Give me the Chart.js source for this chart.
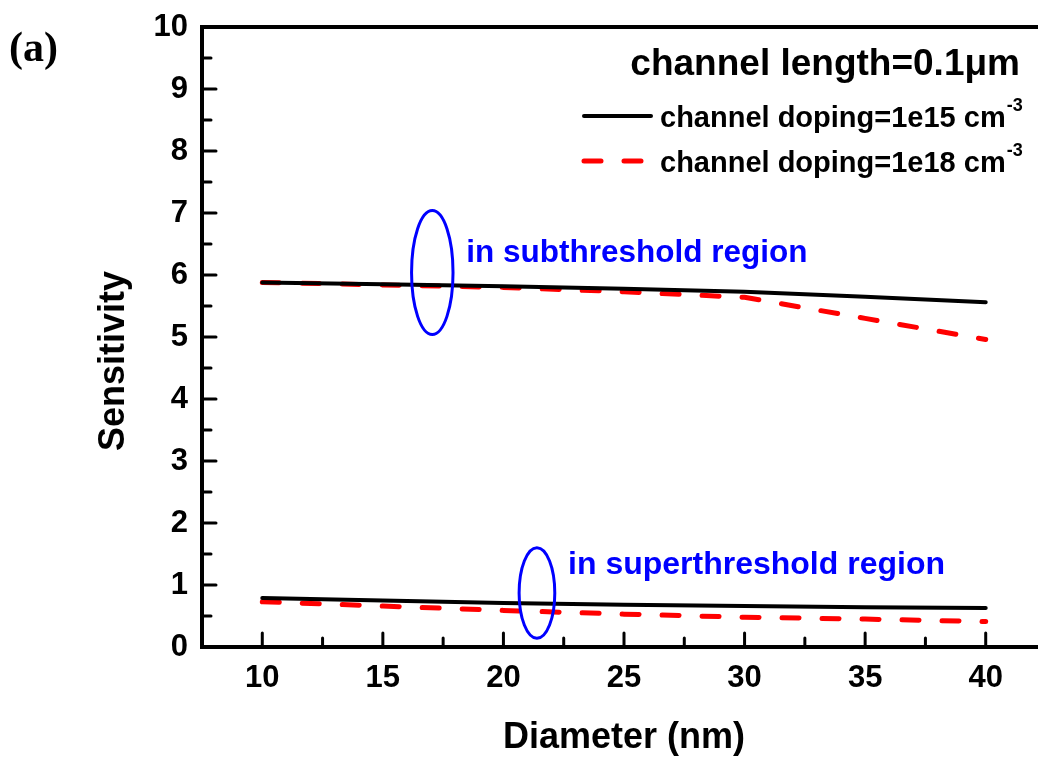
<!DOCTYPE html>
<html>
<head>
<meta charset="utf-8">
<script src="https://cdn.jsdelivr.net/npm/chart.js@4.4.0/dist/chart.umd.min.js"></script>
<style>
  html, body { margin: 0; padding: 0; background: #fff; overflow: hidden; }
  #wrap { width: 1038px; height: 760px; overflow: hidden; position: relative; }
  canvas { display: block; }
</style>
</head>
<body>
<div id="wrap"><canvas id="c" width="1060" height="760"></canvas></div>
<script>
// Nanowire sensor sensitivity versus diameter (channel length 0.1 µm)
const diameters = [10, 15, 20, 25, 30, 35, 40];
const subDoping15 = [5.88, 5.85, 5.82, 5.78, 5.73, 5.65, 5.56];
const subDoping18 = [5.88, 5.84, 5.80, 5.73, 5.64, 5.30, 4.96];
const superDoping15 = [0.79, 0.75, 0.71, 0.68, 0.66, 0.64, 0.63];
const superDoping18 = [0.73, 0.66, 0.59, 0.53, 0.48, 0.45, 0.41];

const xTickValues = [10, 15, 20, 25, 30, 35, 40];
const xMinorValues = [12.5, 17.5, 22.5, 27.5, 32.5, 37.5];
const yTickValues = [0, 1, 2, 3, 4, 5, 6, 7, 8, 9, 10];
const yMinorValues = [0.5, 1.5, 2.5, 3.5, 4.5, 5.5, 6.5, 7.5, 8.5, 9.5];

const legendLabels = ['channel doping=1e15 cm', 'channel doping=1e18 cm'];
const legendSup = '-3';
const titleText = 'channel length=0.1\u03bcm';
const regionLabels = ['in subthreshold region', 'in superthreshold region'];
// ellipse groups: centre (x, y) and half-axes in data units
const groupEllipses = [
  { x: 17.05, y: 6.04, rx: 0.86, ry: 1.0 },
  { x: 21.39, y: 0.87, rx: 0.74, ry: 0.73 }
];
const regionLabelPos = [
  { x: 18.46, y: 6.21 },
  { x: 22.68, y: 1.17 }
];

const FONT = '"Liberation Sans", Arial, sans-serif';
const BLUE = '#0000ff';

const toData = (vals) => vals.map((v, i) => ({ x: diameters[i], y: v }));

const solidStyle = { borderColor: '#000000', borderWidth: 4, pointRadius: 0, borderCapStyle: 'round', tension: 0, fill: false };
const dashStyle = { borderColor: '#ff0000', borderWidth: 5, pointRadius: 0, borderDash: [17, 23], borderCapStyle: 'round', tension: 0, fill: false };

const decorations = {
  id: 'decorations',
  beforeDatasetsDraw(chart) {
    const { ctx, chartArea: a, scales: { x, y } } = chart;
    ctx.save();
    ctx.strokeStyle = '#000';
    ctx.lineWidth = 4;
    ctx.lineCap = 'butt';
    ctx.strokeRect(a.left, a.top, a.right - a.left, a.bottom - a.top);
    // inward tick marks on bottom and left axes
    ctx.lineWidth = 3;
    ctx.lineCap = 'round';
    const tickX = (v, len) => {
      const px = x.getPixelForValue(v);
      ctx.beginPath(); ctx.moveTo(px, a.bottom); ctx.lineTo(px, a.bottom - len); ctx.stroke();
    };
    const tickY = (v, len) => {
      const py = y.getPixelForValue(v);
      ctx.beginPath(); ctx.moveTo(a.left, py); ctx.lineTo(a.left + len, py); ctx.stroke();
    };
    xTickValues.forEach(v => tickX(v, 14));
    xMinorValues.forEach(v => tickX(v, 9));
    yTickValues.forEach(v => { if (v > 0 && v < 10) tickY(v, 14); });
    yMinorValues.forEach(v => tickY(v, 9));
    ctx.restore();
  },
  afterDatasetsDraw(chart) {
    const { ctx, chartArea: a, scales: { x, y } } = chart;
    ctx.save();

    // group ellipses
    ctx.strokeStyle = BLUE;
    ctx.lineWidth = 3;
    groupEllipses.forEach(e => {
      const cx = x.getPixelForValue(e.x), cy = y.getPixelForValue(e.y);
      const rx = Math.abs(x.getPixelForValue(e.x + e.rx) - cx);
      const ry = Math.abs(y.getPixelForValue(e.y + e.ry) - cy);
      ctx.beginPath(); ctx.ellipse(cx, cy, rx, ry, 0, 0, Math.PI * 2); ctx.stroke();
    });

    // region labels
    ctx.fillStyle = BLUE;
    ctx.textAlign = 'left';
    ctx.textBaseline = 'alphabetic';
    ctx.font = 'bold 31.5px ' + FONT;
    ctx.fillText(regionLabels[0], x.getPixelForValue(regionLabelPos[0].x), y.getPixelForValue(regionLabelPos[0].y));
    ctx.font = 'bold 32px ' + FONT;
    ctx.fillText(regionLabels[1], x.getPixelForValue(regionLabelPos[1].x), y.getPixelForValue(regionLabelPos[1].y));

    // title inside the plot
    ctx.fillStyle = '#000';
    ctx.font = 'bold 37px ' + FONT;
    ctx.textAlign = 'right';
    ctx.fillText(titleText, 1020, 75);

    // legend
    const ds = chart.data.datasets;
    const rows = [{ ds: ds[0], lineY: 116, textY: 127 }, { ds: ds[1], lineY: 161, textY: 172 }];
    rows.forEach((r, i) => {
      ctx.save();
      ctx.strokeStyle = r.ds.borderColor;
      ctx.lineWidth = r.ds.borderWidth;
      ctx.lineCap = 'round';
      ctx.setLineDash(r.ds.borderDash || []);
      ctx.beginPath(); ctx.moveTo(584, r.lineY); ctx.lineTo(651, r.lineY); ctx.stroke();
      ctx.restore();
      ctx.fillStyle = '#000';
      ctx.textAlign = 'left';
      ctx.font = 'bold 29px ' + FONT;
      ctx.fillText(legendLabels[i], 660, r.textY);
      const w = ctx.measureText(legendLabels[i]).width;
      ctx.font = 'bold 18px ' + FONT;
      ctx.fillText(legendSup, 660 + w + 1, r.textY - 16);
    });

    // axis titles
    ctx.fillStyle = '#000';
    ctx.font = 'bold 36px ' + FONT;
    ctx.textAlign = 'center';
    ctx.textBaseline = 'middle';
    ctx.fillText('Diameter (nm)', 624, 738);
    ctx.save();
    ctx.translate(114, 361);
    ctx.rotate(-Math.PI / 2);
    ctx.fillText('Sensitivity', 0, 0);
    ctx.restore();

    // panel label
    ctx.font = 'bold 42px "Liberation Serif", "Times New Roman", serif';
    ctx.textAlign = 'left';
    ctx.textBaseline = 'alphabetic';
    ctx.fillText('(a)', 9, 61);

    ctx.restore();
  }
};

new Chart(document.getElementById('c'), {
  type: 'line',
  data: {
    datasets: [
      Object.assign({ label: legendLabels[0], data: toData(subDoping15) }, solidStyle),
      Object.assign({ label: legendLabels[1], data: toData(subDoping18) }, dashStyle),
      Object.assign({ label: legendLabels[0] + ' (super)', data: toData(superDoping15) }, solidStyle),
      Object.assign({ label: legendLabels[1] + ' (super)', data: toData(superDoping18) }, dashStyle)
    ]
  },
  options: {
    responsive: false,
    animation: false,
    devicePixelRatio: 1,
    layout: { padding: { left: 0, top: 27, right: 14, bottom: 0 } },
    plugins: { legend: { display: false }, tooltip: { enabled: false } },
    scales: {
      x: {
        type: 'linear',
        min: 7.5,
        max: 42.5,
        afterBuildTicks: (s) => { s.ticks = xTickValues.map(v => ({ value: v })); },
        afterFit: (s) => { s.height = 113; s.paddingLeft = 0; s.paddingRight = 0; },
        grid: { display: false, drawTicks: false },
        border: { display: false },
        ticks: { color: '#000', padding: 13, font: { family: FONT, size: 31, weight: 'bold' }, maxRotation: 0, autoSkip: false }
      },
      y: {
        type: 'linear',
        min: 0,
        max: 10,
        afterBuildTicks: (s) => { s.ticks = yTickValues.map(v => ({ value: v })); },
        afterFit: (s) => { s.width = 202; s.paddingTop = 0; s.paddingBottom = 0; },
        grid: { display: false, drawTicks: false },
        border: { display: false },
        ticks: { color: '#000', padding: 14, font: { family: FONT, size: 31, weight: 'bold' }, autoSkip: false }
      }
    }
  },
  plugins: [decorations]
});
</script>
</body>
</html>
